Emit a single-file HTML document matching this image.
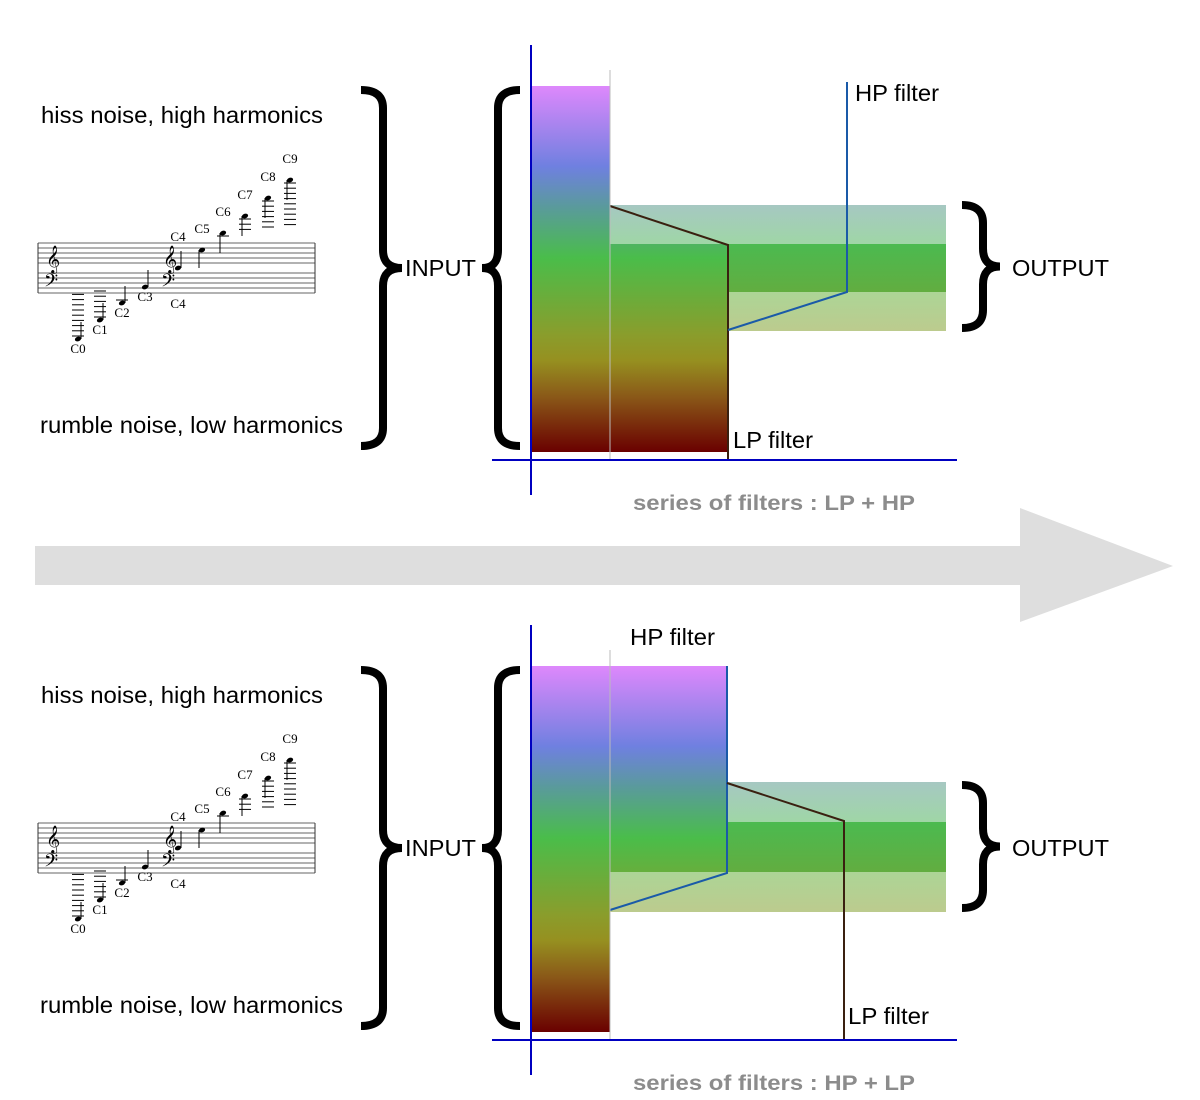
<!DOCTYPE html>
<html><head><meta charset="utf-8"><style>
html,body{margin:0;padding:0;background:#fff;}
svg{display:block;}
</style></head><body>
<svg id="svg" width="1200" height="1100" viewBox="0 0 1200 1100" xmlns="http://www.w3.org/2000/svg" font-family="Liberation Sans, sans-serif">
<defs>
<linearGradient id="spec" x1="0" y1="86" x2="0" y2="452" gradientUnits="userSpaceOnUse">
<stop offset="0" stop-color="#de88fc"/>
<stop offset="0.22" stop-color="#6f80e0"/>
<stop offset="0.33" stop-color="#5a9a9c"/>
<stop offset="0.47" stop-color="#4abd4a"/>
<stop offset="0.68" stop-color="#8a9d2c"/>
<stop offset="0.75" stop-color="#969020"/>
<stop offset="0.85" stop-color="#8a5818"/>
<stop offset="1" stop-color="#6a0000"/>
</linearGradient>
<linearGradient id="spec2" x1="0" y1="666" x2="0" y2="1032" gradientUnits="userSpaceOnUse">
<stop offset="0" stop-color="#de88fc"/>
<stop offset="0.22" stop-color="#6f80e0"/>
<stop offset="0.33" stop-color="#5a9a9c"/>
<stop offset="0.47" stop-color="#4abd4a"/>
<stop offset="0.68" stop-color="#8a9d2c"/>
<stop offset="0.75" stop-color="#969020"/>
<stop offset="0.85" stop-color="#8a5818"/>
<stop offset="1" stop-color="#6a0000"/>
</linearGradient>
<linearGradient id="bandA" x1="0" y1="0" x2="0" y2="1"><stop offset="0" stop-color="#a6c8c2"/><stop offset="1" stop-color="#9fd6a6"/></linearGradient>
<linearGradient id="bandB" x1="0" y1="0" x2="0" y2="1"><stop offset="0" stop-color="#4bba50"/><stop offset="1" stop-color="#62ad40"/></linearGradient>
<linearGradient id="bandC" x1="0" y1="0" x2="0" y2="1"><stop offset="0" stop-color="#acd596"/><stop offset="1" stop-color="#bccb8e"/></linearGradient>
</defs>

<polygon points="35,546 1020,546 1020,508 1173,566 1020,622 1020,585 35,585" fill="#dedede"/>

<g id="panels"></g>
</svg>
<script>
const NS='http://www.w3.org/2000/svg';
const svg=document.getElementById('panels');
const panelOffsets=[0,580];
const panelCaptions=['series of filters : LP + HP','series of filters : HP + LP'];
const noteNames=['C0','C1','C2','C3','C4','C5','C6','C7','C8','C9'];
const noteX=[78,100,122,145,178,202,223,245,268,290];
const noteY=[339,320,303,287,268,250,233,216,198,180];
const ledgerCount=[9,6,1,0,0,0,1,3,6,9];

function el(tag,attrs,parent,text){
  const e=document.createElementNS(NS,tag);
  for(const k in attrs)e.setAttribute(k,attrs[k]);
  if(text!==undefined)e.textContent=text;
  (parent||svg).appendChild(e);return e;
}
function txt(x,y,s,w,parent,extra){
  const a=Object.assign({x:x,y:y,'font-size':23,textLength:w,lengthAdjust:'spacingAndGlyphs'},extra||{});
  return el('text',a,parent,s);
}
function braceR(x0,x1,tip,top,bot){
  const mid=(top+bot)/2,r=18;
  return `M${x0},${top} Q${x1},${top} ${x1},${top+r} L${x1},${mid-r} Q${x1},${mid} ${tip},${mid} Q${x1},${mid} ${x1},${mid+r} L${x1},${bot-r} Q${x1},${bot} ${x0},${bot}`;
}
function shift(d,o){return d.replace(/(\d+),(\d+)/g,(m,a,c)=>a+','+(+c+o));}

panelOffsets.forEach((o,pi)=>{
  const g=el('g',{});
  
  
  let t;
  t=txt(41,123+o,'hiss noise, high harmonics',282,g);
  
  t=txt(40,433+o,'rumble noise, low harmonics',303,g);
  

  const st=el('g',{},g);
  
  [243,248,253,258,263,273,278,283,288,293].forEach(y=>el('line',{x1:38,x2:315,y1:y+o,y2:y+o,stroke:'#333','stroke-width':0.8},st));
  el('line',{x1:38,x2:38,y1:243+o,y2:293+o,stroke:'#333','stroke-width':1},st);
  el('line',{x1:315,x2:315,y1:243+o,y2:293+o,stroke:'#333','stroke-width':1},st);
  [[46,267],[163,267]].forEach(c=>el('text',{x:c[0],y:c[1]+o,'font-size':24,style:'font-family:"DejaVu Sans",serif'},st,'𝄞'));
  [[44,290],[161,290]].forEach(c=>el('text',{x:c[0],y:c[1]+o,'font-size':22,style:'font-family:"DejaVu Sans",serif'},st,'𝄢'));
  noteNames.forEach((n,i)=>{
    const x=noteX[i],y=noteY[i]+o;
    el('ellipse',{cx:x,cy:y,rx:3.2,ry:2.3,fill:'#000',transform:`rotate(-20 ${x} ${y})`},st);
    const up=i<5;
    if(up) el('line',{x1:x+3,x2:x+3,y1:y,y2:y-17,stroke:'#000','stroke-width':1},st);
    else el('line',{x1:x-3,x2:x-3,y1:y,y2:y+(i==5?18:20),stroke:'#000','stroke-width':1},st);
    for(let k=0;k<ledgerCount[i];k++){
      const ly = i<3 ? y-3-k*5.2 : y+3+k*5.2;
      el('line',{x1:x-6,x2:x+6,y1:ly,y2:ly,stroke:'#000','stroke-width':1},st);
    }
    const lab = i<4 ? [x,y+14] : (i==4 ? [x,y-27] : [x,y-17]);
    el('text',{x:lab[0],y:lab[1],'font-size':13,'text-anchor':'middle',style:'font-family:"Liberation Serif",serif'},st,n);
  });
  el('text',{x:178,y:308+o,'font-size':13,'text-anchor':'middle',style:'font-family:"Liberation Serif",serif'},st,'C4');

  let b=el('path',{d:shift(braceR(361,383,402,90,446),o),fill:'none',stroke:'#000','stroke-width':8},g);
  
  b=el('path',{d:shift(braceR(520,498,482,90,446),o),fill:'none',stroke:'#000','stroke-width':8},g);
  
  t=txt(405,276+o,'INPUT',71,g);
  

  b=el('path',{d:shift(braceR(962,983,1000,205,328),o),fill:'none',stroke:'#000','stroke-width':8},g);
  
  t=txt(1012,276+o,'OUTPUT',97,g);
  

  const grad = pi==0?'url(#spec)':'url(#spec2)';
  let r=el('rect',{x:532,y:86+o,width:78,height:366,fill:grad},g);
  

  if(pi==0){
    el('rect',{x:610,y:205,width:336,height:39,fill:'url(#bandA)'},g);
    el('rect',{x:610,y:244,width:336,height:48,fill:'url(#bandB)'},g);
    el('rect',{x:728,y:292,width:218,height:39,fill:'url(#bandC)'},g);
    r=el('rect',{x:610,y:244,width:118,height:208,fill:grad},g);
    
    let p=el('polyline',{points:'610,206 728,245 728,460',fill:'none',stroke:'#3a2010','stroke-width':2},g);
    
    p=el('polyline',{points:'728,330 847,292 847,82',fill:'none',stroke:'#1a5aa8','stroke-width':2},g);
    
    txt(855,101,'HP filter',84,g);
    txt(733,448,'LP filter',80,g);
  } else {
    r=el('rect',{x:610,y:666,width:117,height:206,fill:grad},g);
    
    el('rect',{x:727,y:782,width:219,height:40,fill:'url(#bandA)'},g);
    el('rect',{x:727,y:822,width:219,height:50,fill:'url(#bandB)'},g);
    el('rect',{x:610,y:872,width:336,height:40,fill:'url(#bandC)'},g);
    let p=el('polyline',{points:'727,666 727,873 610,910',fill:'none',stroke:'#1a5aa8','stroke-width':2},g);
    
    p=el('polyline',{points:'727,783 844,821 844,1040',fill:'none',stroke:'#3a2010','stroke-width':2},g);
    
    txt(630,645,'HP filter',85,g);
    txt(848,1024,'LP filter',81,g);
  }
  el('line',{x1:610,x2:610,y1:(pi==0?70:650),y2:460+o,stroke:'#bbb','stroke-width':1},g);
  let a=el('line',{x1:531,x2:531,y1:45+o,y2:495+o,stroke:'#0000c0','stroke-width':2},g);
  
  a=el('line',{x1:492,x2:957,y1:460+o,y2:460+o,stroke:'#0000c0','stroke-width':2},g);
  
  t=txt(633,510+o,panelCaptions[pi],282,g,{'font-size':21,'font-weight':'bold',fill:'#8c8c8c'});
  
});
</script>
</body></html>
